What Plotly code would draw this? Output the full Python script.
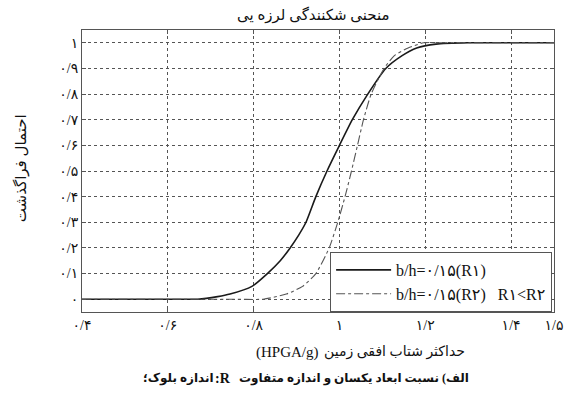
import plotly.graph_objects as go

# Fragility curves: exceedance probability vs. peak horizontal ground acceleration
x_r1 = [0.40, 0.60, 0.67, 0.716, 0.745, 0.796, 0.832, 0.862, 0.885, 0.905, 0.922, 0.945, 0.971,
        1.00, 1.03, 1.066, 1.108, 1.146, 1.18, 1.225, 1.30, 1.50]
p_r1 = [0.0, 0.0, 0.0, 0.01, 0.02, 0.05, 0.10, 0.15, 0.20, 0.25, 0.30, 0.40, 0.50,
        0.60, 0.70, 0.80, 0.90, 0.95, 0.98, 0.995, 1.0, 1.0]

x_r2 = [0.40, 0.75, 0.822, 0.876, 0.914, 0.945, 0.976, 0.996, 1.013, 1.028,
        1.042, 1.056, 1.074, 1.104, 1.128, 1.16, 1.196, 1.25, 1.50]
p_r2 = [0.0, 0.0, 0.0, 0.02, 0.05, 0.10, 0.20, 0.30, 0.40, 0.50,
        0.60, 0.70, 0.80, 0.90, 0.95, 0.98, 1.0, 1.0, 1.0]

x_ticks = [0.4, 0.6, 0.8, 1.0, 1.2, 1.4, 1.5]
x_ticklabels = ["۰/۴", "۰/۶", "۰/۸", "۱", "۱/۲", "۱/۴", "۱/۵"]
y_ticks = [0.0, 0.1, 0.2, 0.3, 0.4, 0.5, 0.6, 0.7, 0.8, 0.9, 1.0]
y_ticklabels = ["۰", "۰/۱", "۰/۲", "۰/۳", "۰/۴", "۰/۵", "۰/۶", "۰/۷", "۰/۸", "۰/۹", "۱"]

name_r1 = "b/h=۰/۱۵(R۱)"
name_r2 = "b/h=۰/۱۵(R۲)   R۱<R۲"

title_text = "منحنی شکنندگی لرزه یی"
xlabel_fa = "حداکثر شتاب افقی زمین"
xlabel_en = "(HPGA/g)"
ylabel_text = "احتمال فراگذشت"
caption_fa1 = "الف) نسبت ابعاد یکسان و اندازه متفاوت"
caption_en = ":R"
caption_fa2 = "اندازه بلوک؛"

FONT = "Liberation Serif, DejaVu Serif, DejaVu Sans, serif"

# plot-area geometry in pixels (used to place the text blocks)
L, R, T, B = 82, 11, 30, 82
W, H = 574, 394
PW, PH = W - L - R, H - T - B


def px(xp):
    return (xp - L) / PW


def py(yp):
    return (H - B - yp) / PH


fig = go.Figure()
fig.add_trace(go.Scatter(x=x_r1, y=p_r1, mode="lines", name=name_r1,
                         line=dict(color="#1a1a1a", width=1.6, shape="spline", smoothing=0.6)))
fig.add_trace(go.Scatter(x=x_r2, y=p_r2, mode="lines", name=name_r2,
                         line=dict(color="#555555", width=1.1, dash="dashdot",
                                   shape="spline", smoothing=0.6)))

axis_common = dict(
    showline=True, linecolor="#555555", linewidth=1, mirror="ticks",
    ticks="inside", ticklen=4, tickcolor="#555555",
    showgrid=True, gridcolor="#555555", gridwidth=1, griddash="dot",
    zeroline=False, tickfont=dict(family=FONT, size=14, color="#111111"),
)

fig.update_xaxes(range=[0.4, 1.5], tickvals=x_ticks, ticktext=x_ticklabels, **axis_common)
fig.update_yaxes(range=[-0.05, 1.05], tickvals=y_ticks, ticktext=y_ticklabels, **axis_common)

ann = dict(xref="paper", yref="paper", showarrow=False)
fig.update_layout(
    width=W, height=H,
    margin=dict(l=L, r=R, t=T, b=B),
    paper_bgcolor="white", plot_bgcolor="white",
    font=dict(family=FONT, color="#111111"),
    showlegend=True,
    legend=dict(x=0.996, y=0.0, xanchor="right", yanchor="bottom",
                bgcolor="white", bordercolor="#555555", borderwidth=1,
                font=dict(family=FONT, size=16, color="#111111"),
                tracegroupgap=0, itemwidth=55),
    annotations=[
        dict(text=title_text, x=px(318), y=py(15), xanchor="center", yanchor="middle",
             font=dict(family=FONT, size=15), **ann),
        # x-axis title: Persian words on the right, (HPGA/g) on the left
        dict(text=xlabel_en, x=px(326), y=py(352), xanchor="right", yanchor="middle",
             font=dict(family=FONT, size=15), **ann),
        dict(text=xlabel_fa, x=px(327), y=py(352), xanchor="left", yanchor="middle",
             font=dict(family=FONT, size=14), **ann),
        dict(text=ylabel_text, x=px(20), y=py(168), xanchor="center", yanchor="middle",
             textangle=-90, font=dict(family=FONT, size=15), **ann),
        # caption, laid out right-to-left
        dict(text="<b>" + caption_fa1 + "</b>", x=px(240), y=py(378), xanchor="left",
             yanchor="middle", font=dict(family=FONT, size=12), **ann),
        dict(text="<b>" + caption_en + "</b>", x=px(236), y=py(378), xanchor="right",
             yanchor="middle", font=dict(family=FONT, size=14), **ann),
        dict(text="<b>" + caption_fa2 + "</b>", x=px(219), y=py(378), xanchor="right",
             yanchor="middle", font=dict(family=FONT, size=12), **ann),
    ],
)

fig.write_html("out.html")
